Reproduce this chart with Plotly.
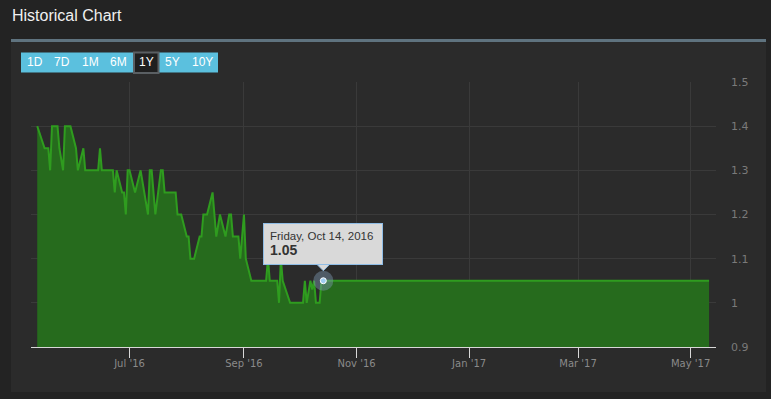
import plotly.graph_objects as go

# ---- data ----
dates = [
    "2016-05-12", "2016-05-16", "2016-05-18", "2016-05-19", "2016-05-20", "2016-05-23",
    "2016-05-24", "2016-05-26", "2016-05-27", "2016-05-30", "2016-06-02", "2016-06-03",
    "2016-06-06", "2016-06-07", "2016-06-14", "2016-06-15", "2016-06-16", "2016-06-22",
    "2016-06-23", "2016-06-24", "2016-06-27", "2016-06-28", "2016-06-29", "2016-06-30",
    "2016-07-01", "2016-07-04", "2016-07-07", "2016-07-11", "2016-07-12", "2016-07-13",
    "2016-07-15", "2016-07-18", "2016-07-19", "2016-07-20", "2016-07-26", "2016-07-27",
    "2016-07-29", "2016-08-01", "2016-08-02", "2016-08-03", "2016-08-05", "2016-08-08",
    "2016-08-09", "2016-08-10", "2016-08-12", "2016-08-15", "2016-08-16", "2016-08-17",
    "2016-08-19", "2016-08-22", "2016-08-24", "2016-08-25", "2016-08-26", "2016-08-29",
    "2016-08-30", "2016-09-01", "2016-09-02", "2016-09-05", "2016-09-13", "2016-09-14",
    "2016-09-15", "2016-09-19", "2016-09-20", "2016-09-21", "2016-09-22", "2016-09-26",
    "2016-10-03", "2016-10-04", "2016-10-05", "2016-10-07", "2016-10-08", "2016-10-09",
    "2016-10-10", "2016-10-12", "2016-10-13", "2016-10-14", "2017-05-11",
]
values = [
    1.40, 1.35, 1.35, 1.30, 1.40, 1.40,
    1.35, 1.30, 1.40, 1.40, 1.35, 1.30,
    1.35, 1.30, 1.30, 1.35, 1.30, 1.30,
    1.25, 1.30, 1.25, 1.25, 1.20, 1.30,
    1.30, 1.25, 1.30, 1.20, 1.30, 1.30,
    1.20, 1.30, 1.30, 1.25, 1.25, 1.20,
    1.20, 1.15, 1.15, 1.10, 1.10, 1.15,
    1.15, 1.20, 1.20, 1.25, 1.20, 1.15,
    1.20, 1.15, 1.20, 1.20, 1.15, 1.15,
    1.10, 1.20, 1.10, 1.05, 1.05, 1.10,
    1.05, 1.05, 1.00, 1.10, 1.05, 1.00,
    1.00, 1.05, 1.00, 1.05, 1.03, 1.05,
    1.00, 1.00, 1.05, 1.05, 1.05,
]
tick_dates = ["2016-07-01", "2016-09-01", "2016-11-01", "2017-01-01", "2017-03-01", "2017-05-01"]
tick_labels = ["Jul '16", "Sep '16", "Nov '16", "Jan '17", "Mar '17", "May '17"]
y_ticks = [0.9, 1.0, 1.1, 1.2, 1.3, 1.4, 1.5]
y_tick_labels = ["0.9", "1", "1.1", "1.2", "1.3", "1.4", "1.5"]
range_buttons = ["1D", "7D", "1M", "6M", "1Y", "5Y", "10Y"]
active_button = "1Y"
tooltip_date = "2016-10-14"
tooltip_label = "Friday, Oct 14, 2016"

# ---- layout geometry ----
W, H = 771, 399
L, R, T, B = 31, 55, 82, 52
PW, PH = W - L - R, H - T - B


def px(x):
    return (x - L) / PW


def py(y):
    return (H - B - y) / PH


fig = go.Figure()
fig.add_trace(go.Scatter(
    x=dates, y=values, mode="lines",
    line=dict(color="#2f9c1f", width=2),
    fill="tozeroy", fillcolor="#266b1d",
    hoverinfo="skip", showlegend=False,
))

ti = dates.index(tooltip_date)
tx, tyv = dates[ti], values[ti]
# hover halo + point
fig.add_trace(go.Scatter(
    x=[tx], y=[tyv], mode="markers",
    marker=dict(size=20, color="rgba(125,150,175,0.45)", line=dict(width=0)),
    hoverinfo="skip", showlegend=False,
))
fig.add_trace(go.Scatter(
    x=[tx], y=[tyv], mode="markers",
    marker=dict(size=6, color="#9fcdf0", line=dict(width=1, color="#ffffff")),
    hoverinfo="skip", showlegend=False,
))

shapes = [
    # panel
    dict(type="rect", xref="paper", yref="paper", x0=px(11), x1=px(766), y0=py(392), y1=py(39),
         fillcolor="#2b2b2b", line=dict(width=0), layer="below"),
    # top border
    dict(type="rect", xref="paper", yref="paper", x0=px(11), x1=px(766), y0=py(42), y1=py(39),
         fillcolor="#5f737f", line=dict(width=0), layer="below"),
    # button strip
    dict(type="rect", xref="paper", yref="paper", x0=px(21), x1=px(218), y0=py(72.5), y1=py(52.5),
         fillcolor="#5bc0de", line=dict(width=0), layer="above"),
    # active button
    dict(type="rect", xref="paper", yref="paper", x0=px(134), x1=px(158.5), y0=py(73), y1=py(52.5),
         fillcolor="#1f1f1f", line=dict(width=2, color="#5a5f63"), layer="above"),
    # tooltip pointer
    dict(type="path", xref="x", yref="y", xsizemode="pixel", ysizemode="pixel",
         xanchor=tx, yanchor=tyv, path="M -7,17 L 0,10 L 7,17 Z",
         fillcolor="#d9d9d9", line=dict(width=1, color="#8fbde6"), layer="above"),
]

btn_centers = [35, 61.7, 90, 118.3, 146, 172.3, 202.3]
annotations = [
    dict(text="Historical Chart", xref="paper", yref="paper", x=px(10), y=py(15.5),
         xanchor="left", yanchor="middle", showarrow=False,
         font=dict(family="Liberation Sans, Arial, sans-serif", size=16, color="#f0f0f0")),
    dict(text=f"<span style='font-size:11.5px'>{tooltip_label}</span><br>"
              f"<b><span style='font-size:14px'>{tyv:.2f}</span></b>",
         x=tx, y=tyv, xref="x", yref="y", xanchor="center", yanchor="bottom",
         yshift=16, showarrow=False, align="left", width=106, height=28,
         bgcolor="#d9d9d9", bordercolor="#8fbde6", borderwidth=1, borderpad=6,
         font=dict(family="Liberation Sans, Arial, sans-serif", size=11, color="#333333")),
]
for lab, cx in zip(range_buttons, btn_centers):
    annotations.append(dict(
        text=lab, xref="paper", yref="paper", x=px(cx), y=py(62.5),
        xanchor="center", yanchor="middle", showarrow=False,
        font=dict(family="Liberation Sans, Arial, sans-serif", size=12, color="#ffffff"),
    ))

fig.update_layout(
    width=W, height=H,
    margin=dict(l=L, r=R, t=T, b=B, pad=0),
    paper_bgcolor="#232323", plot_bgcolor="rgba(0,0,0,0)",
    showlegend=False, hovermode=False,
    shapes=shapes, annotations=annotations,
    xaxis=dict(
        type="date", range=["2016-05-08 15:00", "2017-05-14 18:00"],
        tickvals=tick_dates, ticktext=tick_labels,
        ticks="outside", ticklen=10, tickcolor="#d8d8d8", tickwidth=1,
        ticklabelstandoff=-3,
        showline=True, linecolor="#d8d8d8", linewidth=1,
        showgrid=True, gridcolor="#3a3a3a", gridwidth=1, zeroline=False,
        tickfont=dict(family="DejaVu Sans, sans-serif", size=10, color="#8a8a8a"),
        fixedrange=True,
    ),
    yaxis=dict(
        range=[0.9, 1.5], side="right",
        tickvals=y_ticks, ticktext=y_tick_labels,
        ticks="", ticklabelstandoff=14,
        showgrid=True, gridcolor="#3a3a3a", gridwidth=1, zeroline=False, showline=False,
        tickfont=dict(family="DejaVu Sans, sans-serif", size=11, color="#7a7a7a"),
        fixedrange=True,
    ),
)

fig.write_html(
    "out.html",
    config={"displayModeBar": False},
    post_script="document.body.style.margin='0';document.body.style.background='#232323';",
)
